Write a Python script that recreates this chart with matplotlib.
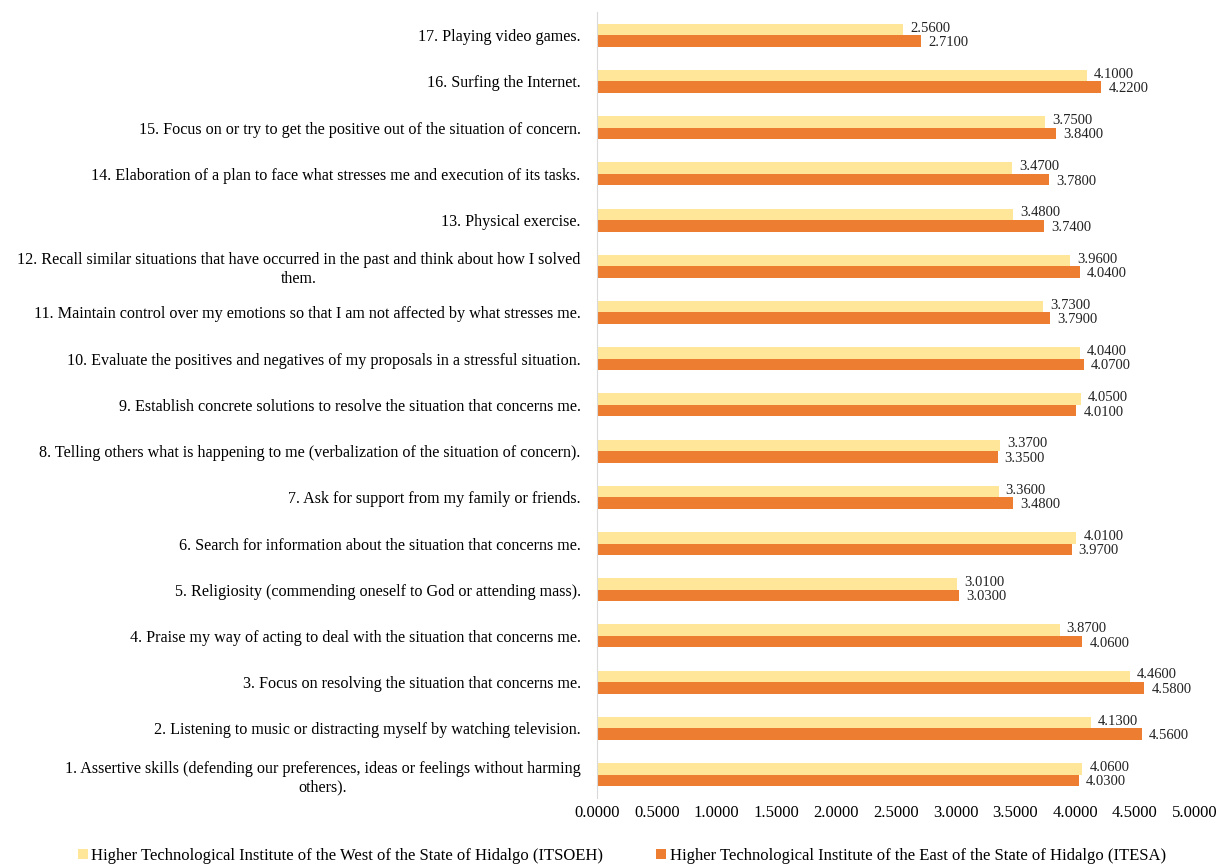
import numpy as np
import matplotlib.pyplot as plt

plt.rcParams['font.family'] = ['Liberation Serif', 'DejaVu Serif']

categories = [
    "1. Assertive skills (defending our preferences, ideas or feelings without harming\nothers).",
    "2. Listening to music or distracting myself by watching television.",
    "3. Focus on resolving the situation that concerns me.",
    "4. Praise my way of acting to deal with the situation that concerns me.",
    "5. Religiosity (commending oneself to God or attending mass).",
    "6. Search for information about the situation that concerns me.",
    "7. Ask for support from my family or friends.",
    "8. Telling others what is happening to me (verbalization of the situation of concern).",
    "9. Establish concrete solutions to resolve the situation that concerns me.",
    "10. Evaluate the positives and negatives of my proposals in a stressful situation.",
    "11. Maintain control over my emotions so that I am not affected by what stresses me.",
    "12. Recall similar situations that have occurred in the past and think about how I solved\nthem.",
    "13. Physical exercise.",
    "14. Elaboration of a plan to face what stresses me and execution of its tasks.",
    "15. Focus on or try to get the positive out of the situation of concern.",
    "16. Surfing the Internet.",
    "17. Playing video games.",
]
itsoeh = [4.06, 4.13, 4.46, 3.87, 3.01, 4.01, 3.36, 3.37, 4.05, 4.04, 3.73, 3.96, 3.48, 3.47, 3.75, 4.10, 2.56]
itesa = [4.03, 4.56, 4.58, 4.06, 3.03, 3.97, 3.48, 3.35, 4.01, 4.07, 3.79, 4.04, 3.74, 3.78, 3.84, 4.22, 2.71]
series_names = ["Higher Technological Institute of the West of the State of Hidalgo (ITSOEH)",
                "Higher Technological Institute of the East of the State of Hidalgo (ITESA)"]
xticks = np.arange(0, 5.01, 0.5)

fig = plt.figure(figsize=(12.19, 8.67), dpi=100)
ax = fig.add_axes([0.49, 0.08, 0.49, 0.906])

y = np.arange(len(categories))
h = 0.25
b1 = ax.barh(y + h / 2, itsoeh, height=h, color='#FFE699', label=series_names[0])
b2 = ax.barh(y - h / 2, itesa, height=h, color='#ED7D31', label=series_names[1])

for bars, vals, dy in [(b1, itsoeh, 1), (b2, itesa, -1)]:
    for rect, v in zip(bars, vals):
        ax.annotate(f"{v:.4f}", (v, rect.get_y() + rect.get_height() / 2),
                    xytext=(5, dy), textcoords='offset points',
                    ha='left', va='center', fontsize=10.5, color='#222222')

ax.set_xlim(0, 5)
ax.set_ylim(-0.5, len(categories) - 0.5)
ax.set_xticks(xticks)
ax.set_xticklabels([f"{t:.4f}" for t in xticks], fontsize=12)
ax.set_yticks(y)
ax.set_yticklabels(categories, fontsize=11.6, multialignment='center')
ax.tick_params(axis='y', length=0, pad=12)
ax.tick_params(axis='x', length=0, pad=5)
for s in ['top', 'right', 'bottom']:
    ax.spines[s].set_visible(False)
ax.spines['left'].set_color('#d9d9d9')

fig.legend(handles=[b1, b2], loc='center', bbox_to_anchor=(0.51, 11 / 867), ncol=2,
           frameon=False, fontsize=12, handlelength=0.6, handleheight=0.6,
           handletextpad=0.2, columnspacing=3.2)

fig.savefig('out.png', dpi=100)
